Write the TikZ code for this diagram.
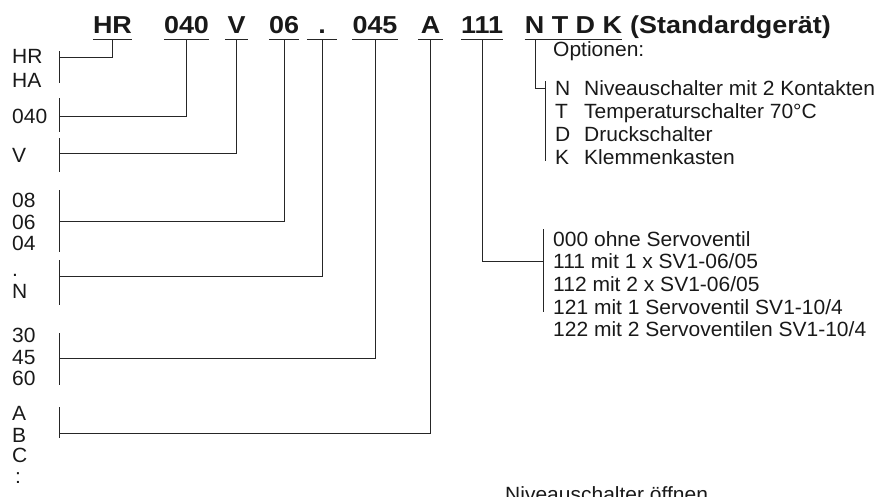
\documentclass[tikz,border=0pt]{standalone}
\usepackage{fontspec}
\setmainfont{Liberation Sans}[FakeStretch=1.02]
\newfontfamily\codefont{Liberation Sans}[FakeStretch=1.1]
\usetikzlibrary{calc}

\tikzset{
  lbl/.style={inner sep=0pt, anchor=base west, font=\fontsize{20.6}{22}\selectfont, text=black!90},
  field/.style={inner sep=0pt, anchor=base, text depth=6pt, font=\codefont\bfseries\fontsize{24.5}{26}\selectfont, text=black!90},
  uline/.style={line width=0.9pt, color=black!85},
  bar/.style={line width=0.9pt, color=black!85},
  link/.style={line width=0.9pt, color=black!85},
}

\begin{document}
\begin{tikzpicture}[x=1pt,y=-1pt]
\useasboundingbox (0,0) rectangle (882,496);
\clip (0,0) rectangle (882,496);

% type code
\node[field, minimum width=39pt] (hr) at (112.5,33.3) {HR};
\node[field, minimum width=41pt] (c040) at (186.5,33.3) {040};
\node[field, minimum width=23pt] (v) at (236.5,33.3) {V};
\node[field, minimum width=30pt] (c06) at (284,33.3) {06};
\node[field, minimum width=30pt] (dot) at (322,33.3) {.};
\node[field, minimum width=44pt] (c045) at (375,33.3) {045};
\node[field, minimum width=25pt] (ca) at (430.5,33.3) {A};
\node[field, minimum width=40pt] (c111) at (482,33.3) {111};
\node[field, minimum width=97pt] (ntdk) at (573.5,33.3) {N T D K};
\node[field, anchor=base west] (std) at (630,33.3) {(Standardgerät)};
\foreach \f in {hr,c040,v,c06,dot,c045,ca,c111,ntdk}
  \draw[uline] (\f.south west) -- (\f.south east);

% left column
\foreach \t/\y [count=\i] in {HR/63.5, HA/87, 040/123.5, V/162, 08/207, 06/229, 04/250, ./276, N/298, 30/342, 45/364, 60/385, A/420, B/442, C/462}
  \node[lbl] (l-\i) at (12,\y) {\t};
\node[lbl] (l-16) at (15,483) {:};

\foreach \src/\ya/\yb/\ym in {hr/51/83/57, c040/98/132/116, v/138/172/153, c06/190/252/221, dot/260/305/276, c045/333/385/358, ca/407/438/433} {
  \coordinate (t-\src) at (59,\ya);
  \coordinate (b-\src) at (59,\yb);
  \coordinate (m-\src) at (59,\ym);
  \draw[bar] (t-\src) -- (b-\src);
  \draw[link] (\src.south) |- (m-\src);
}

% servo valves
\coordinate (sv-t) at (543,229);
\coordinate (sv-b) at (543,312);
\coordinate (sv-m) at (543,261.7);
\draw[bar] (sv-t) -- (sv-b);
\draw[link] (c111.south) |- (sv-m);
\foreach \t [count=\i] in {000 ohne Servoventil, 111 mit 1 x SV1-06/05, 112 mit 2 x SV1-06/05, 121 mit 1 Servoventil SV1-10/4, 122 mit 2 Servoventilen SV1-10/4}
  \node[lbl] (sv-\i) at (553,{246+(\i-1)*22.7}) {\t};

% options
\node[lbl] (opt) at (553,56) {Optionen:};
\coordinate (nN) at ([xshift=11pt]ntdk.south west);
\coordinate (op-t) at (545,81);
\coordinate (op-b) at (545,161);
\coordinate (op-m) at (545,88);
\draw[bar] (op-t) -- (op-b);
\draw[link] (nN) |- (op-m);
\foreach \k/\t [count=\i] in {N/Niveauschalter mit 2 Kontakten, T/Temperaturschalter 70°C, D/Druckschalter, K/Klemmenkasten} {
  \node[lbl] (ok-\i) at (555,{95+(\i-1)*23}) {\k};
  \node[lbl] (ox-\i) at (584,{95+(\i-1)*23}) {\t};
}

\node[lbl] (open) at (505,501) {Niveauschalter öffnen};
\end{tikzpicture}
\end{document}
